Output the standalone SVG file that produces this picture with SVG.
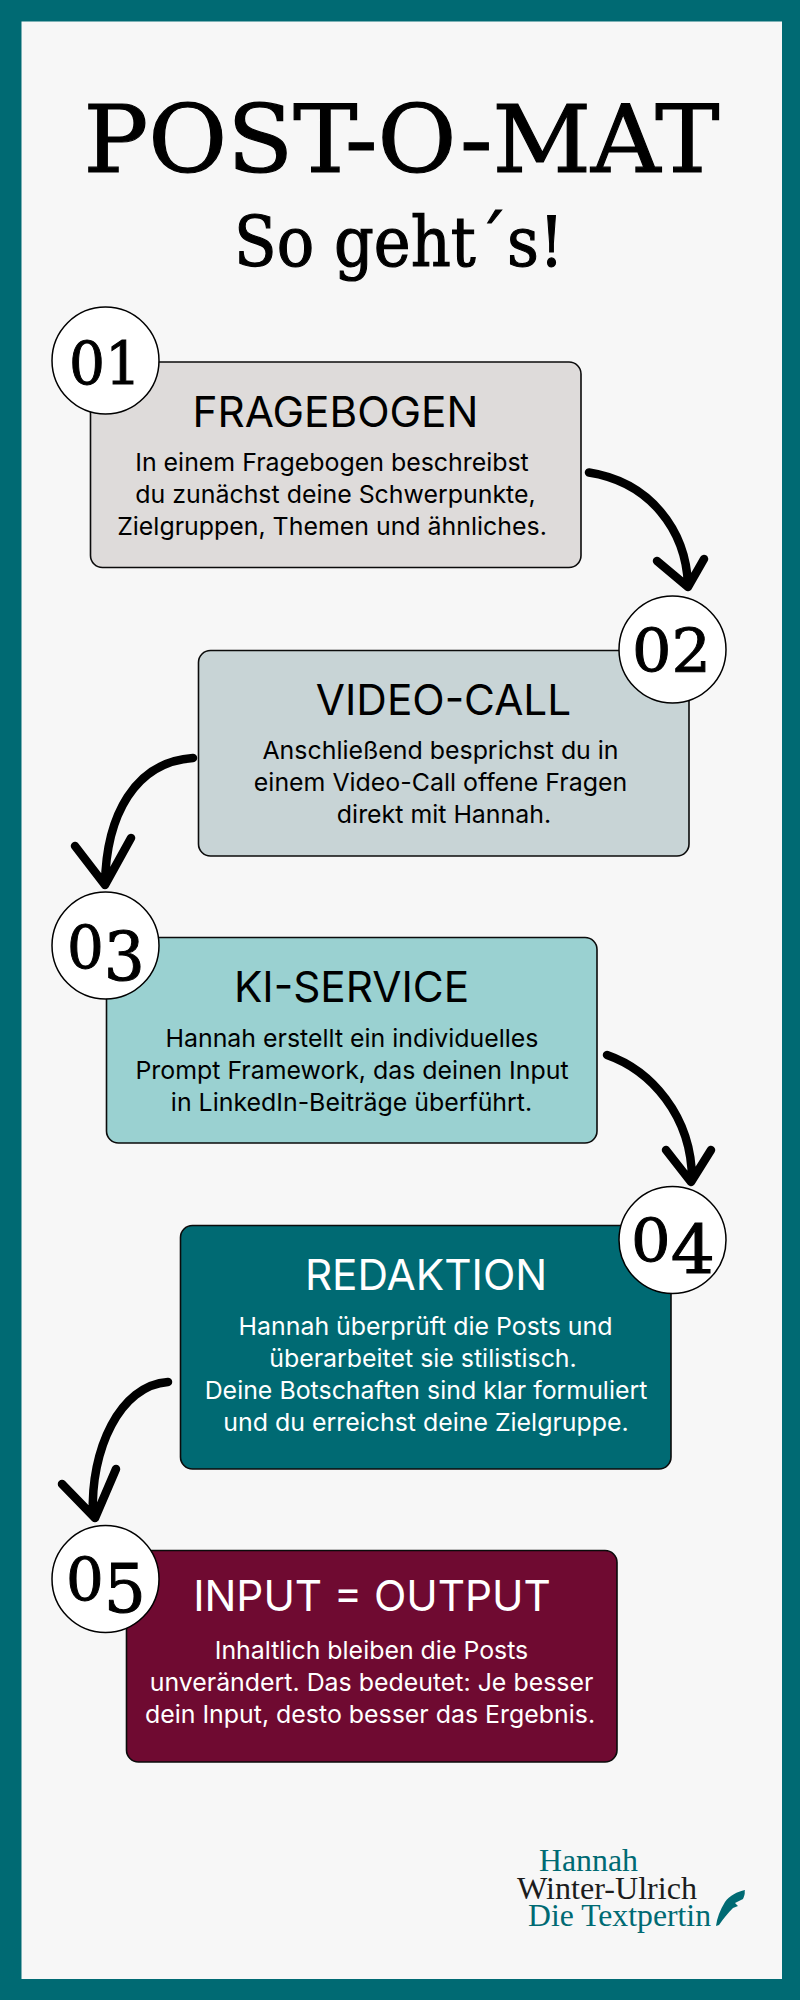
<svg xmlns="http://www.w3.org/2000/svg" width="800" height="2000" viewBox="0 0 800 2000">
<style>
.box{stroke:#0b0b0b;stroke-width:1.6}
.num{fill:#fff;stroke:#000;stroke-width:1.5}
.d{font-family:"DejaVu Serif",serif;font-size:60px;fill:#000;stroke:#000;stroke-width:1}
.h{font-family:Inter,"Noto Sans",sans-serif;font-size:42.300px;text-anchor:middle;fill:#000}
.b{font-family:Inter,"Noto Sans",sans-serif;font-size:24.900px;text-anchor:middle;fill:#000}
.w{fill:#fff}
.t{font-family:"DejaVu Serif",serif;text-anchor:middle;fill:#000;stroke:#000;stroke-width:1.2}
.l{font-family:"Liberation Serif",serif;font-size:31px;fill:#006a73}
.a{fill:none;stroke:#000;stroke-width:8.5;stroke-linecap:round;stroke-linejoin:round}
</style>
<rect width="800" height="2000" fill="#006a73"/>
<rect x="21.5" y="21.5" width="760.5" height="1957.5" fill="#f7f7f7"/>
<g id="title">
<text class="t" x="401.500" y="172" font-size="93" textLength="636" lengthAdjust="spacingAndGlyphs">POST-O-MAT</text>
<text class="t" x="399" y="266" font-size="70" textLength="330" lengthAdjust="spacingAndGlyphs">So geht´s!</text>
</g>
<g id="connectors">
<path class="a" d="M589 472.5C650 482 686 530 688 585M657 561L688 587L704 559"/>
<path class="a" d="M193 758C135 762 106 815 105 885M75 846L105 885L131 838"/>
<path class="a" d="M607 1055C650 1070 692 1115 692 1180M666 1150L691 1182L711 1150"/>
<path class="a" d="M168 1382C120 1385 90 1450 93 1515M62 1484L95 1518L116 1469"/>
</g>
<g id="node-1">
<rect class="box" x="90.500" y="362" width="490.500" height="205.500" rx="12" fill="#dedbda"/>
<circle class="num" cx="105.500" cy="360.500" r="53.500"/>
<text class="d" x="69" y="384.500" textLength="72" lengthAdjust="spacingAndGlyphs">01</text>
<text class="h" x="335.500" y="426.500">FRAGEBOGEN</text>
<text class="b" x="332" y="471">In einem Fragebogen beschreibst</text>
<text class="b" x="335.500" y="503">du zunächst deine Schwerpunkte,</text>
<text class="b" x="332" y="535">Zielgruppen, Themen und ähnliches.</text>
</g>
<g id="node-2">
<rect class="box" x="198.500" y="650.500" width="490.500" height="205.500" rx="12" fill="#c8d4d6"/>
<circle class="num" cx="672.500" cy="649.500" r="53.500"/>
<text class="d" x="632" y="672" textLength="79" lengthAdjust="spacingAndGlyphs">02</text>
<text class="h" x="443.500" y="714.500">VIDEO-CALL</text>
<text class="b" x="440.500" y="759">Anschließend besprichst du in</text>
<text class="b" x="440.500" y="791">einem Video-Call offene Fragen</text>
<text class="b" x="444" y="823">direkt mit Hannah.</text>
</g>
<g id="node-3">
<rect class="box" x="106.500" y="937.500" width="490.500" height="205.500" rx="12" fill="#9ad1d1"/>
<circle class="num" cx="105.500" cy="945.500" r="53.500"/>
<text class="d" x="67" y="969" textLength="78" lengthAdjust="spacingAndGlyphs">0<tspan dy="11" font-size="67">3</tspan></text>
<text class="h" x="351.500" y="1002">KI-SERVICE</text>
<text class="b" x="352" y="1046.500">Hannah erstellt ein individuelles</text>
<text class="b" x="352" y="1078.500">Prompt Framework, das deinen Input</text>
<text class="b" x="351.500" y="1110.500">in LinkedIn-Beiträge überführt.</text>
</g>
<g id="node-4">
<rect class="box" x="180.500" y="1225.500" width="490.500" height="243.500" rx="12" fill="#006a73"/>
<circle class="num" cx="672.500" cy="1240" r="53.500"/>
<text class="d" x="631" y="1262" textLength="84" lengthAdjust="spacingAndGlyphs">0<tspan dy="11" font-size="67">4</tspan></text>
<text class="h w" x="426" y="1290">REDAKTION</text>
<text class="b w" x="425.500" y="1335">Hannah überprüft die Posts und</text>
<text class="b w" x="423" y="1367">überarbeitet sie stilistisch.</text>
<text class="b w" x="426" y="1399">Deine Botschaften sind klar formuliert</text>
<text class="b w" x="426" y="1431">und du erreichst deine Zielgruppe.</text>
</g>
<g id="node-5">
<rect class="box" x="126.500" y="1550.500" width="490.500" height="211.500" rx="12" fill="#6f0a31"/>
<circle class="num" cx="105.500" cy="1579" r="53.500"/>
<text class="d" x="66" y="1601" textLength="80" lengthAdjust="spacingAndGlyphs">0<tspan dy="11" font-size="67">5</tspan></text>
<text class="h w" x="372" y="1611">INPUT = OUTPUT</text>
<text class="b w" x="371.500" y="1659">Inhaltlich bleiben die Posts</text>
<text class="b w" x="371.500" y="1691">unverändert. Das bedeutet: Je besser</text>
<text class="b w" x="370" y="1723">dein Input, desto besser das Ergebnis.</text>
</g>
<g id="logo">
<text class="l" x="539" y="1871" textLength="99" lengthAdjust="spacingAndGlyphs">Hannah</text>
<text class="l" x="517" y="1899" textLength="180" lengthAdjust="spacingAndGlyphs" style="fill:#1c1c1c">Winter-Ulrich</text>
<text class="l" x="528" y="1926" textLength="183" lengthAdjust="spacingAndGlyphs">Die Textpertin</text>
<path fill="#006a73" d="M716 1926L719 1925C724 1918 728 1913 733 1908L738 1906L735 1903L743 1899C746 1892 744 1893 745 1890C737 1892 730 1895 725 1902C720 1910 717 1918 716 1926Z"/>
</g>
</svg>
